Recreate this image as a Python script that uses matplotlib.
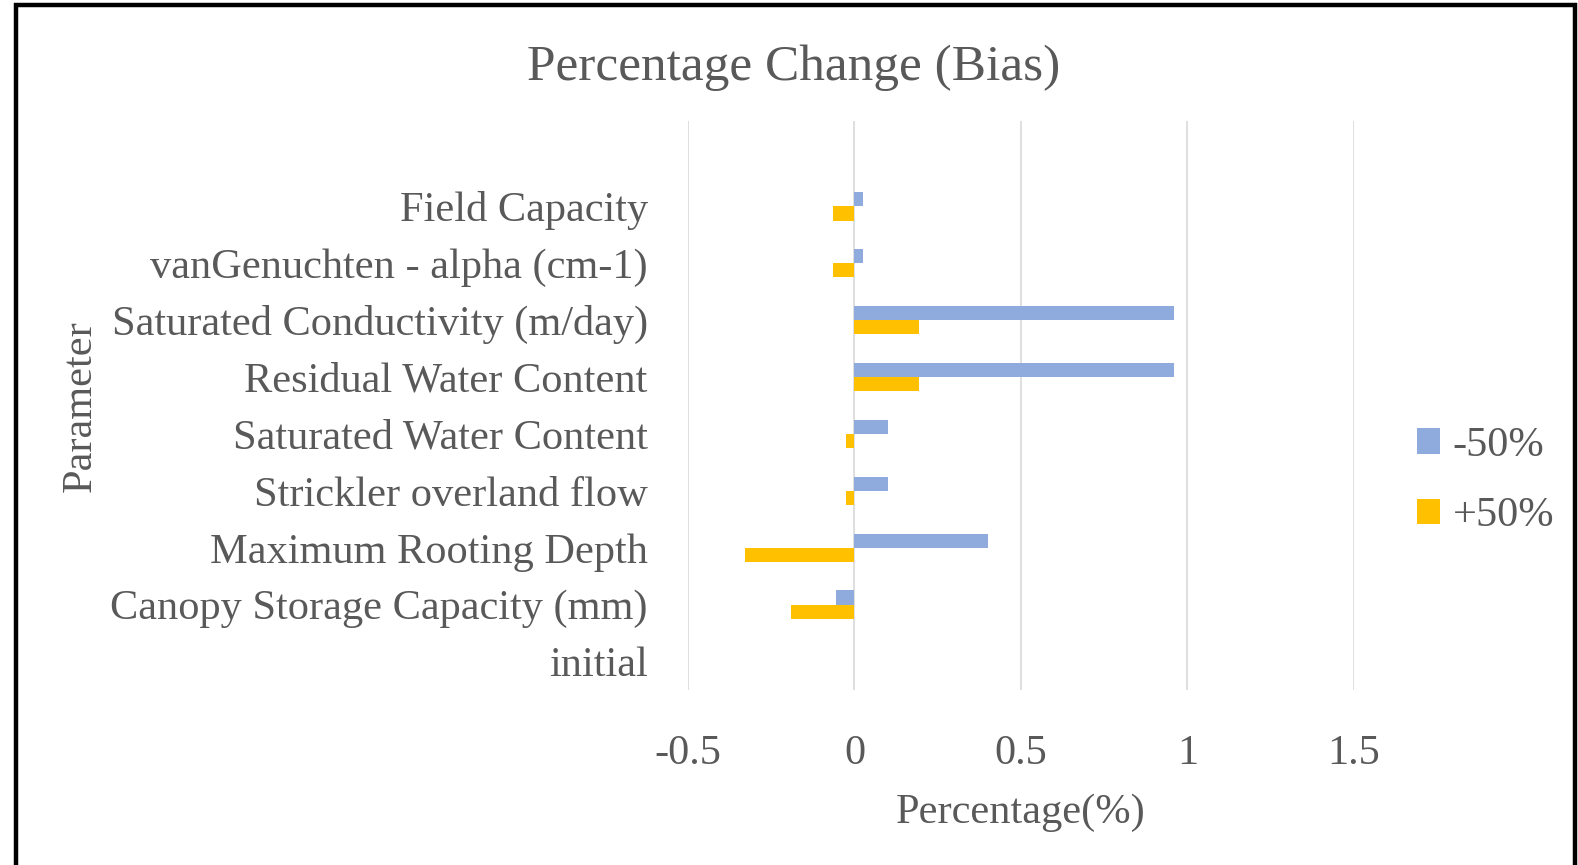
import matplotlib
matplotlib.use("Agg")
import matplotlib.pyplot as plt
from matplotlib.patches import Rectangle
import numpy as np

# Sensitivity parameters (bottom to top) and percentage change in bias
parameters = [
    "initial",
    "Canopy Storage Capacity (mm)",
    "Maximum Rooting Depth",
    "Strickler overland flow",
    "Saturated Water Content",
    "Residual Water Content",
    "Saturated Conductivity (m/day)",
    "vanGenuchten - alpha (cm-1)",
    "Field Capacity",
]
minus_50 = [0.0, -0.055, 0.40, 0.10, 0.10, 0.96, 0.96, 0.025, 0.025]
plus_50 = [0.0, -0.19, -0.33, -0.025, -0.025, 0.195, 0.195, -0.065, -0.065]
series_labels = ["-50%", "+50%"]
x_ticks = [-0.5, 0, 0.5, 1, 1.5]
x_tick_labels = ["-0.5", "0", "0.5", "1", "1.5"]

BLUE = "#8FAADC"
GOLD = "#FFC000"
TEXT = "#595959"
GRID = "#D9D9D9"

plt.rcParams["font.family"] = ["Liberation Serif", "DejaVu Serif"]

fig = plt.figure(figsize=(15.78, 8.65), dpi=100)
ax = fig.add_axes([0.436, 0.2023, 0.422, 0.6578])

y = np.arange(len(parameters))
h = 0.25
ax.barh(y + h / 2, minus_50, height=h, color=BLUE, label=series_labels[0], zorder=3)
ax.barh(y - h / 2, plus_50, height=h, color=GOLD, label=series_labels[1], zorder=3)

ax.set_xlim(-0.5, 1.5)
ax.set_ylim(-0.5, len(parameters) + 0.5)
ax.set_xticks(x_ticks)
ax.set_xticklabels(x_tick_labels)
ax.set_yticks(y)
ax.set_yticklabels(parameters)
ax.tick_params(axis="both", length=0, labelsize=30.5, colors=TEXT)
ax.tick_params(axis="y", pad=29)
ax.tick_params(axis="x", pad=32)
ax.grid(axis="x", color=GRID, linewidth=1.2, zorder=0)
for s in ax.spines.values():
    s.set_visible(False)

ax.set_xlabel("Percentage(%)", fontsize=30.5, color=TEXT, labelpad=15)
fig.text(0.051, 0.53, "Parameter", rotation=90, fontsize=30.5, color=TEXT,
         ha="center", va="center")

fig.text(0.503, 0.922, "Percentage Change (Bias)", fontsize=37, color=TEXT,
         ha="center", va="center")

leg = fig.legend(loc="center left", bbox_to_anchor=(0.887, 0.444), frameon=False,
                 fontsize=30.5, handlelength=0.55, handleheight=0.55,
                 handletextpad=0.3, labelspacing=0.75, borderaxespad=0)
for t in leg.get_texts():
    t.set_color(TEXT)

# Outer frame around the chart
fig.patches.append(Rectangle((16 / 1578, -0.01), 1559 / 1578, 0.01 + 1 - 5 / 865,
                             transform=fig.transFigure, fill=False,
                             edgecolor="black", linewidth=3.2, zorder=10))

fig.savefig("out.png", dpi=100)
